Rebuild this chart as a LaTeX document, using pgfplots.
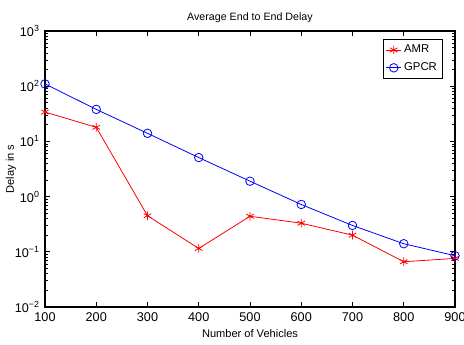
\documentclass[border=0pt]{standalone}
\usepackage{fontspec}
\setmainfont{Liberation Sans}
\usepackage{pgfplots}
\pgfplotsset{compat=1.18}
\begin{document}
\begin{tikzpicture}
\begin{axis}[
  scale only axis,
  width=307.5pt, height=207pt,
  xmin=100, xmax=900,
  ymode=log, ymin=0.01, ymax=1000,
  xtick={100,200,...,900},
  ytick={0.01,0.1,1,10,100,1000},
  yticklabels={10\textsuperscript{−2},10\textsuperscript{−1},10\textsuperscript{0},10\textsuperscript{1},10\textsuperscript{2},10\textsuperscript{3}},
  /pgf/number format/assume math mode=true,
  /pgf/number format/1000 sep={},
  tick align=inside,
  major tick length=4pt,
  minor tick length=2pt,
  tick style={black, line width=0.5pt},
  axis line style={line width=0.8pt},
  ticklabel style={font=\fontsize{9.5}{11}\selectfont},
  xticklabel style={yshift=-0.5pt},
  yticklabel style={xshift=-0.5pt},
  title={Average End to End Delay},
  title style={font=\fontsize{8}{9}\selectfont, yshift=-3pt},
  xlabel={Number of Vehicles},
  ylabel={Delay in s},
  label style={font=\fontsize{8.3}{10}\selectfont},
  xlabel style={yshift=1pt},
  ylabel style={yshift=-8pt},
  legend style={at={(0.97,0.97)}, anchor=north east, font=\fontsize{8.5}{10}\selectfont, draw=black, line width=0.7pt, inner sep=2pt, row sep=2pt},
  legend cell align=left,
  legend image code/.code={\draw[#1] (0pt,0pt) -- (11pt,0pt); \draw[#1, mark repeat=1] plot coordinates {(5.5pt,0pt)};},
]
\addplot[red, line width=0.6pt, mark=asterisk, mark size=3.2pt, mark options={solid, line width=0.6pt}] coordinates {
(100,34) (200,18) (300,0.45) (400,0.115) (500,0.44) (600,0.33) (700,0.20) (800,0.066) (900,0.076)};
\addlegendentry{AMR}
\addplot[blue, line width=0.6pt, mark=o, mark size=3.2pt, mark options={solid, line width=0.6pt}] coordinates {
(100,110) (200,38) (300,14) (400,5.1) (500,1.9) (600,0.72) (700,0.30) (800,0.14) (900,0.085)};
\addlegendentry{GPCR}
\end{axis}
\pgfresetboundingbox
\path[use as bounding box] (current axis.south west) ++(-33.75pt,-28.5pt) rectangle ++(348pt,258.75pt);
\end{tikzpicture}
\end{document}
